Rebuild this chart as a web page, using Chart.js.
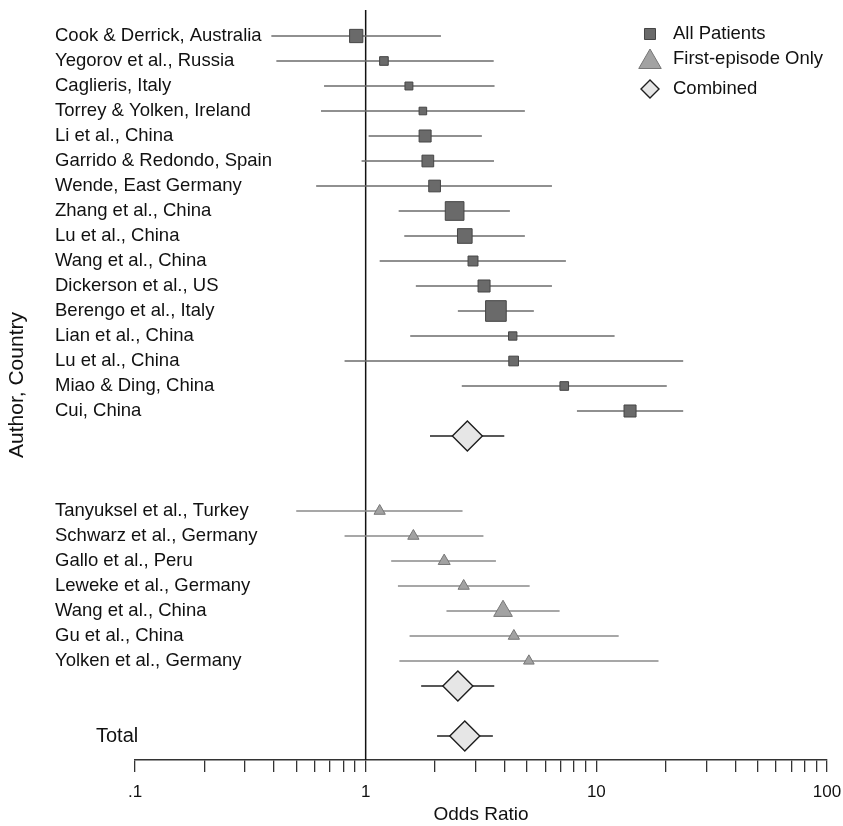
<!DOCTYPE html>
<html>
<head>
<meta charset="utf-8">
<script src="https://cdn.jsdelivr.net/npm/chart.js@4.4.0/dist/chart.umd.min.js"></script>
<style>
  html, body { margin: 0; padding: 0; background: #fff; }
</style>
</head>
<body>
<canvas id="forestChart" width="843" height="826"></canvas>
<script>
// Studies, all patients
const allLabels = [
    'Cook & Derrick, Australia', 'Yegorov et al., Russia', 'Caglieris, Italy',
    'Torrey & Yolken, Ireland', 'Li et al., China', 'Garrido & Redondo, Spain',
    'Wende, East Germany', 'Zhang et al., China', 'Lu et al., China',
    'Wang et al., China', 'Dickerson et al., US', 'Berengo et al., Italy',
    'Lian et al., China', 'Lu et al., China', 'Miao & Ding, China', 'Cui, China'
];
const allOR = [0.91, 1.20, 1.54, 1.77, 1.81, 1.86, 1.99, 2.43, 2.69, 2.92, 3.26, 3.67, 4.34, 4.38, 7.26, 14.0];
const allLo = [0.39, 0.41, 0.66, 0.64, 1.03, 0.96, 0.61, 1.39, 1.47, 1.15, 1.65, 2.51, 1.56, 0.81, 2.61, 8.24];
const allHi = [2.12, 3.59, 3.62, 4.90, 3.19, 3.60, 6.42, 4.22, 4.90, 7.38, 6.42, 5.36, 12.0, 23.8, 20.2, 23.8];
const allWeights = [7.3, 3.1, 2.6, 2.4, 6.0, 5.7, 5.7, 14.5, 8.9, 4.1, 6.0, 17.7, 2.9, 3.9, 3.1, 6.0];

// Studies, first-episode only
const firstLabels = [
    'Tanyuksel et al., Turkey', 'Schwarz et al., Germany', 'Gallo et al., Peru',
    'Leweke et al., Germany', 'Wang et al., China', 'Gu et al., China', 'Yolken et al., Germany'
];
const firstOR = [1.15, 1.61, 2.19, 2.66, 3.94, 4.39, 5.10];
const firstLo = [0.50, 0.81, 1.29, 1.38, 2.24, 1.55, 1.40];
const firstHi = [2.63, 3.24, 3.67, 5.14, 6.93, 12.5, 18.6];
const firstWeights = [11.4, 11.4, 12.9, 11.4, 31.2, 11.4, 10.2];

// Pooled estimates: all patients, first-episode, total
const combinedLabels = ['', '', 'Total'];
const combinedOR = [2.76, 2.51, 2.69];
const combinedLo = [1.90, 1.74, 2.04];
const combinedHi = [3.99, 3.61, 3.56];

const xTicks = [0.1, 0.2, 0.3, 0.4, 0.5, 0.6, 0.7, 0.8, 0.9,
                1, 2, 3, 4, 5, 6, 7, 8, 9,
                10, 20, 30, 40, 50, 60, 70, 80, 90, 100];
const xTickLabels = { 0.1: '.1', 1: '1', 10: '10', 100: '100' };

const FONT = '"Liberation Sans", Arial, Helvetica, sans-serif';
Chart.defaults.font.family = FONT;
Chart.defaults.color = '#111';

// row layout
const allRows = allLabels.map((_, i) => i);
const firstRows = firstLabels.map((_, i) => i + 19);
const combinedRows = [16, 26, 28];
const yMin = -1.04;
const yMax = 28.96;

function ciSegments(rows, lo, hi) {
    const pts = [];
    rows.forEach((r, i) => {
        pts.push({ x: lo[i], y: r }, { x: hi[i], y: r }, { x: hi[i], y: null });
    });
    return pts;
}

function markers(rows, values) {
    return values.map((v, i) => ({ x: v, y: rows[i] }));
}

const squareStyle = { pointStyle: 'rect', bg: '#6a6a6a', border: '#454545', width: 1 };
const triangleStyle = { pointStyle: 'triangle', bg: '#a2a2a2', border: '#767676', width: 1 };
const diamondStyle = { pointStyle: 'rectRot', bg: '#e6e6e6', border: '#1e1e1e', width: 1.4 };

// Etiquetas y leyenda
const forestText = {
    id: 'forestText',
    afterDraw(chart) {
        const { ctx } = chart;
        const y = chart.scales.y;
        ctx.save();
        ctx.fillStyle = '#111';
        ctx.textAlign = 'left';
        ctx.textBaseline = 'middle';
        ctx.font = '18.5px ' + FONT;
        allLabels.forEach((t, i) => ctx.fillText(t, 55, y.getPixelForValue(allRows[i])));
        firstLabels.forEach((t, i) => ctx.fillText(t, 55, y.getPixelForValue(firstRows[i])));
        ctx.font = '20px ' + FONT;
        combinedLabels.forEach((t, i) => {
            if (t) ctx.fillText(t, 96, y.getPixelForValue(combinedRows[i]));
        });

        const legendItems = [
            { text: 'All Patients', style: squareStyle, radius: 7.8, y: 34, ty: 34 },
            { text: 'First-episode Only', style: triangleStyle, radius: 13, y: 62, ty: 59 },
            { text: 'Combined', style: diamondStyle, radius: 9, y: 89, ty: 89 }
        ];
        legendItems.forEach(item => {
            ctx.fillStyle = item.style.bg;
            ctx.strokeStyle = item.style.border;
            ctx.lineWidth = item.style.width;
            Chart.helpers.drawPoint(ctx, {
                pointStyle: item.style.pointStyle,
                radius: item.radius,
                borderWidth: item.style.width,
                rotation: 0
            }, 650, item.y);
            ctx.fillStyle = '#111';
            ctx.font = '18.5px ' + FONT;
            ctx.fillText(item.text, 673, item.ty);
        });
        ctx.restore();
    }
};

const ctx = document.getElementById('forestChart').getContext('2d');
new Chart(ctx, {
    type: 'scatter',
    data: {
        datasets: [
            {
                label: 'Combined',
                data: markers(combinedRows, combinedOR),
                pointStyle: diamondStyle.pointStyle,
                pointRadius: 15,
                pointBackgroundColor: diamondStyle.bg,
                pointBorderColor: diamondStyle.border,
                pointBorderWidth: diamondStyle.width
            },
            {
                label: 'First-episode Only',
                data: markers(firstRows, firstOR),
                pointStyle: triangleStyle.pointStyle,
                pointRadius: firstWeights.map(w => 1.93 * Math.sqrt(w)),
                pointBackgroundColor: triangleStyle.bg,
                pointBorderColor: triangleStyle.border,
                pointBorderWidth: triangleStyle.width
            },
            {
                label: 'All Patients',
                data: markers(allRows, allOR),
                pointStyle: squareStyle.pointStyle,
                pointRadius: allWeights.map(w => 3.47 * Math.sqrt(w)),
                pointBackgroundColor: squareStyle.bg,
                pointBorderColor: squareStyle.border,
                pointBorderWidth: squareStyle.width
            },
            {
                data: ciSegments(combinedRows, combinedLo, combinedHi),
                showLine: true, pointRadius: 0,
                borderColor: '#222', borderWidth: 1.5
            },
            {
                data: ciSegments(firstRows, firstLo, firstHi),
                showLine: true, pointRadius: 0,
                borderColor: '#8a8a8a', borderWidth: 1.6
            },
            {
                data: ciSegments(allRows, allLo, allHi),
                showLine: true, pointRadius: 0,
                borderColor: '#6c6c6c', borderWidth: 1.6
            },
            {
                // reference line at OR = 1
                data: [{ x: 1, y: yMin }, { x: 1, y: yMax }],
                showLine: true, pointRadius: 0,
                borderColor: '#111', borderWidth: 1.5
            }
        ]
    },
    options: {
        responsive: false,
        animation: false,
        events: [],
        layout: { autoPadding: false, padding: { top: 10, right: 16, left: 0, bottom: 0 } },
        plugins: {
            legend: { display: false },
            tooltip: { enabled: false }
        },
        scales: {
            x: {
                type: 'logarithmic',
                min: 0.1,
                max: 100,
                afterBuildTicks: (scale) => {
                    scale.ticks = xTicks.map(v => ({ value: v }));
                },
                afterFit: (scale) => {
                    scale.height = 66;
                    scale.paddingLeft = 0;
                    scale.paddingRight = 0;
                },
                ticks: {
                    autoSkip: false,
                    maxRotation: 0,
                    padding: 10,
                    color: '#111',
                    font: { size: 17 },
                    callback: (v) => xTickLabels[v] ?? ''
                },
                grid: {
                    drawOnChartArea: false,
                    drawTicks: true,
                    tickLength: 12,
                    color: '#333',
                    lineWidth: 1.3
                },
                border: { display: true, color: '#333', width: 1.5 },
                title: {
                    display: true,
                    text: 'Odds Ratio',
                    color: '#111',
                    font: { size: 19 },
                    padding: { top: 0, bottom: 0 }
                }
            },
            y: {
                type: 'linear',
                min: yMin,
                max: yMax,
                reverse: true,
                afterFit: (scale) => {
                    scale.width = 135;
                    scale.paddingTop = 0;
                    scale.paddingBottom = 0;
                },
                ticks: { display: false },
                grid: { display: false },
                border: { display: false },
                title: {
                    display: true,
                    text: 'Author, Country',
                    color: '#111',
                    font: { size: 21 },
                    padding: { top: 5, bottom: 0 }
                }
            }
        }
    },
    plugins: [forestText]
});
</script>
</body>
</html>
